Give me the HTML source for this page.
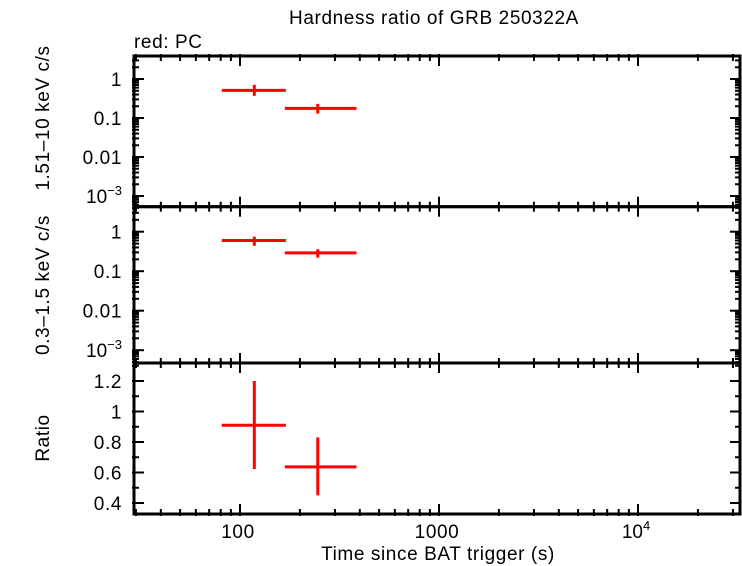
<!DOCTYPE html>
<html><head><meta charset="utf-8"><style>
body{margin:0;background:#fff}
svg{display:block;font-family:"Liberation Sans",sans-serif}
</style></head><body>
<svg id="c" width="742" height="566">
<text x="434" y="24" font-size="19" letter-spacing="0.6" text-anchor="middle">Hardness ratio of GRB 250322A</text>
<text x="134" y="48" font-size="19" letter-spacing="0.6">red: PC</text>
<text x="438" y="560" font-size="19" letter-spacing="0.6" text-anchor="middle">Time since BAT trigger (s)</text>
<text transform="translate(49,118) rotate(-90)" font-size="19" letter-spacing="0.6" text-anchor="middle">1.51–10 keV c/s</text>
<text transform="translate(49,285) rotate(-90)" font-size="19" letter-spacing="0.6" text-anchor="middle">0.3–1.5 keV c/s</text>
<text transform="translate(49,438) rotate(-90)" font-size="19" letter-spacing="0.6" text-anchor="middle">Ratio</text>
</svg>
<script>
const tLo=[81,168], tMid=[118,246], tHi=[170,385];
const hardVal=[0.51,0.177], hardLo=[0.37,0.13], hardHi=[0.71,0.23];
const softVal=[0.60,0.29], softLo=[0.44,0.22], softHi=[0.75,0.36];
const ratioVal=[0.91,0.637], ratioLo=[0.623,0.45], ratioHi=[1.2,0.83];
const ratioTicks=[0.4,0.6,0.8,1,1.2];
const NS="http://www.w3.org/2000/svg", svg=document.getElementById('c');
const L=134,R=740;
const FS=19;
const xs=t=>240+(Math.log10(t)-2)*199;
function el(tag,a,p){const e=document.createElementNS(NS,tag);for(const k in a)e.setAttribute(k,a[k]);(p||svg).appendChild(e);return e;}
const panels=[
 {top:56,bot:206.7,log:true,y0:79,dec:39,vals:hardVal,lo:hardLo,hi:hardHi,name:'hard'},
 {top:206.7,bot:363,log:true,y0:231.7,dec:39.5,vals:softVal,lo:softLo,hi:softHi,name:'soft'},
 {top:363,bot:514,log:false,name:'ratio',vals:ratioVal,lo:ratioLo,hi:ratioHi}
];
function ys(p,v){return p.log? p.y0-Math.log10(v)*p.dec : 381+(1.2-v)*152.5;}
panels.forEach(p=>{
 const g=el('g',{});
 
 
 for(let d=1;d<=4;d++)for(let m=1;m<10;m++){const t=m*Math.pow(10,d);const x=xs(t);if(x<L||x>R)continue;const len=m==1?10:5;
  el('line',{x1:x,x2:x,y1:p.bot+2,y2:p.bot-len,stroke:'#000','stroke-width':2},g);
  el('line',{x1:x,x2:x,y1:p.top-2,y2:p.top+len,stroke:'#000','stroke-width':2},g);}
 if(p.log){
  for(let d=-4;d<=1;d++)for(let m=1;m<10;m++){const v=m*Math.pow(10,d);const y=ys(p,v);if(y<p.top||y>p.bot)continue;const len=m==1?10:5;
   el('line',{x1:L-2,x2:L+len,y1:y,y2:y,stroke:'#000','stroke-width':2},g);
   el('line',{x1:R,x2:R-len,y1:y,y2:y,stroke:'#000','stroke-width':2},g);}
  [['1',0],['0.1',-1],['0.01',-2]].forEach(([s,d])=>{const t=el('text',{x:122,y:ys(p,Math.pow(10,d))+7,'font-size':FS,'letter-spacing':0.6,'text-anchor':'end'},g);t.textContent=s;
   });
  const t=el('text',{x:122,y:ys(p,0.001)+7,'font-size':FS,'text-anchor':'end'},g);
  
  
  t.innerHTML='10<tspan font-size="13" dy="-8">−3</tspan>';
 } else {
  for(let v=0.4;v<=1.3;v+=0.1){const y=ys(p,v);if(y<p.top||y>p.bot)continue;const maj=Math.round(v*10)%2==0;const len=maj?10:5;
   el('line',{x1:L-2,x2:L+len,y1:y,y2:y,stroke:'#000','stroke-width':2},g);
   el('line',{x1:R,x2:R-len,y1:y,y2:y,stroke:'#000','stroke-width':2},g);}
  ratioTicks.forEach(v=>{const t=el('text',{x:122,y:ys(p,v)+7,'font-size':FS,'letter-spacing':0.6,'text-anchor':'end'},g);t.textContent=String(v);
   });
 }
 el('rect',{x:L,y:p.top,width:R-L,height:p.bot-p.top,fill:'none',stroke:'#000','stroke-width':3},g);
 p.vals.forEach((v,i)=>{
  const y=ys(p,v),x=xs(tMid[i]);
  const h=el('line',{x1:xs(tLo[i]),x2:xs(tHi[i]),y1:y,y2:y,stroke:'#f00','stroke-width':3},g);
  
  
  const vv=el('line',{x1:x,x2:x,y1:ys(p,p.lo[i]),y2:ys(p,p.hi[i]),stroke:'#f00','stroke-width':3},g);
  
  
 });
});
const e0=el('text',{x:xs(100)-2,y:538,'font-size':FS,'letter-spacing':0.6,'text-anchor':'middle'});e0.textContent='100';


const e1=el('text',{x:xs(1000)-2,y:538,'font-size':FS,'letter-spacing':0.6,'text-anchor':'middle'});e1.textContent='1000';


const e2=el('text',{x:xs(10000)-2,y:538,'font-size':FS,'text-anchor':'middle'});e2.innerHTML='10<tspan font-size="13" dy="-8">4</tspan>';


</script>
</body></html>
